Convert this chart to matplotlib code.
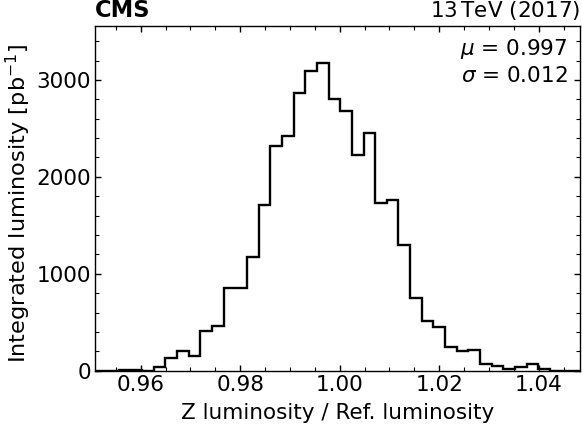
import numpy as np
import matplotlib
matplotlib.use("Agg")
import matplotlib.pyplot as plt
from matplotlib.ticker import MultipleLocator

# Histogram data
bin_low = 0.95086
bin_width = 0.0023444
counts = [0, 0, 8, 8, 0, 35, 128, 200, 152, 410, 461, 850, 850, 1170, 1710,
          2319, 2422, 2863, 3093, 3172, 2804, 2680, 2226, 2450, 1727, 1762,
          1297, 750, 513, 454, 241, 203, 214, 66, 48, 18, 35, 66, 18, 0, 0, 0]
mu_text = r"$\mu$ = 0.997"
sigma_text = r"$\sigma$ = 0.012"
xlabel = "Z luminosity / Ref. luminosity"
ylabel = r"Integrated luminosity [pb$^{-1}$]"
x_range = (0.95086, 1.0484)
y_range = (0, 3560)

edges = bin_low + bin_width * np.arange(len(counts) + 1)

plt.rcParams['font.family'] = ['DejaVu Sans']
plt.rcParams['mathtext.fontset'] = 'dejavusans'

FS = 15.5
fig = plt.figure(figsize=(5.82, 4.32), dpi=100)
ax = fig.add_axes([0.1637, 0.1419, 0.9974 - 0.1637, 0.9405 - 0.1419])
ax.stairs(counts, edges, color='black', linewidth=1.7, baseline=0)

ax.set_xlim(*x_range)
ax.set_ylim(*y_range)
ax.xaxis.set_major_locator(MultipleLocator(0.02))
ax.xaxis.set_minor_locator(MultipleLocator(0.005))
ax.yaxis.set_major_locator(MultipleLocator(1000))
ax.yaxis.set_minor_locator(MultipleLocator(200))
ax.tick_params(which='both', direction='in', top=True, right=True, labelsize=FS)
ax.tick_params(which='major', length=4.5, width=1, pad=3)
ax.tick_params(which='minor', length=2.7, width=0.8)
for s in ax.spines.values():
    s.set_linewidth(1.0)

ax.set_xlabel(xlabel, fontsize=FS)
ax.set_ylabel(ylabel, fontsize=16.2)
ax.xaxis.set_label_coords(0.5, -0.095)
ax.yaxis.set_label_coords(-0.128, 0.486)

ax.text(0.0, 1.01, "CMS", transform=ax.transAxes, fontsize=16.3, fontweight='bold',
        ha='left', va='bottom')
ax.text(1.0, 1.01, "13$\\,$TeV (2017)", transform=ax.transAxes, fontsize=FS,
        ha='right', va='bottom')
ax.text(0.973, 0.915, mu_text, transform=ax.transAxes,
        fontsize=FS, ha='right', va='baseline')
ax.text(0.973, 0.837, sigma_text, transform=ax.transAxes,
        fontsize=FS, ha='right', va='baseline')

fig.savefig("out.png", dpi=100)
